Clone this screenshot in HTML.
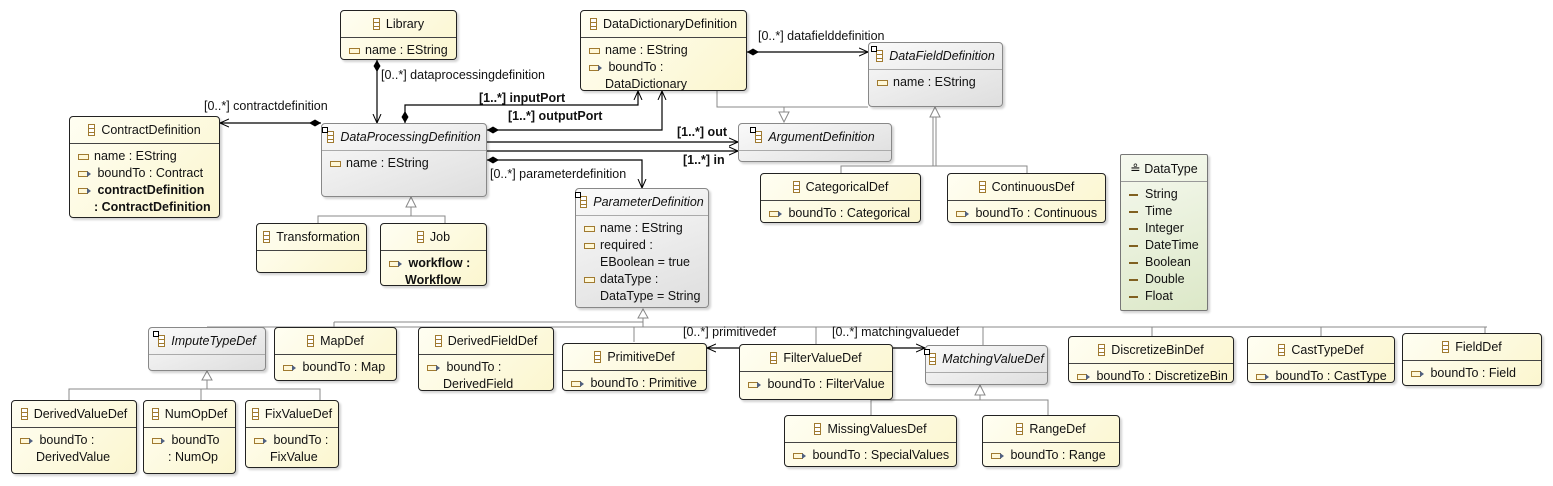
<!DOCTYPE html>
<html><head><meta charset="utf-8"><style>
body{margin:0;width:1553px;height:486px;background:#fff;position:relative;overflow:hidden;font-family:"Liberation Sans","DejaVu Sans",sans-serif;font-size:12.5px;color:#111}
.b{position:absolute;box-sizing:border-box;border:1px solid #222;border-radius:4px;background:linear-gradient(135deg,#fffef2,#fbf6cf);box-shadow:2px 2px 2px rgba(0,0,0,.18)}
.g{background:linear-gradient(160deg,#fafafa,#dedede);border-color:#888}
.gr{background:linear-gradient(160deg,#f6f9ef,#dce8c8);border-color:#777}
.h{box-sizing:border-box;border-bottom:1px solid #444;display:flex;align-items:center;justify-content:center;white-space:nowrap;height:27px}
.g .h{border-bottom-color:#aaa}
.gr .h{border-bottom-color:#999}
.i{font-style:italic}
.ci{display:inline-block;width:7px;height:12px;border:1px solid #a07a30;margin-right:6px;background:linear-gradient(#fff 0 3px,#a07a30 3px 4px,#fff 4px 7px,#a07a30 7px 8px,#fff 8px);box-sizing:border-box;position:relative;vertical-align:-2px}
.ab::before{content:"";position:absolute;left:-6px;top:-5px;width:4px;height:4px;border:1px solid #000;background:#fff}
.a{position:relative;padding-left:24px;line-height:17px;white-space:nowrap}
.a::before{content:"";position:absolute;left:8px;top:6px;width:9px;height:4px;border:1px solid #a07a30;background:#fff8d8}
.r::before{width:8px;height:4px}
.r::after{content:"";position:absolute;left:17px;top:6px;border-left:4px solid #506080;border-top:3px solid transparent;border-bottom:3px solid transparent}
.e::before{height:0;border-width:1px 0 1px 0;border-color:#806020;width:9px;top:8px;background:none}
.bo{font-weight:bold}
.at{padding-top:4px}
svg{position:absolute;left:0;top:0}
.l{position:absolute;white-space:nowrap;font-size:12.5px}
</style></head><body>
<svg width="1553" height="486">
<defs>
<marker id="ar" markerWidth="10" markerHeight="10" refX="9" refY="5" orient="auto" markerUnits="userSpaceOnUse"><path d="M0,1 L9,5 L0,9" fill="none" stroke="#000"/></marker>
<marker id="dm" markerWidth="16" markerHeight="10" refX="1" refY="5" orient="auto" markerUnits="userSpaceOnUse"><path d="M1,5 L7,1.5 L13,5 L7,8.5 Z" fill="#000"/></marker>
</defs>
<g fill="none" stroke="#000" stroke-width="1.2">
<path d="M377,60 V123" marker-start="url(#dm)" marker-end="url(#ar)"/>
<path d="M321,123 H220" marker-start="url(#dm)" marker-end="url(#ar)"/>
<path d="M405,123 V105 H638 V91" marker-start="url(#dm)" marker-end="url(#ar)"/>
<path d="M487,130 H662 V91" marker-start="url(#dm)" marker-end="url(#ar)"/>
<path d="M487,142 H738" marker-end="url(#ar)"/>
<path d="M487,151 H738" marker-end="url(#ar)"/>
<path d="M487,160 H642 V188" marker-start="url(#dm)" marker-end="url(#ar)"/>
<path d="M747,52 H868" marker-start="url(#dm)" marker-end="url(#ar)"/>
<path d="M739,348 H707" marker-end="url(#ar)"/>
<path d="M893,348 H925" marker-end="url(#ar)"/>
</g>
<g fill="none" stroke="#888" stroke-width="1">
<path d="M717,91 V107 H868"/><path d="M784,107 V112"/><path d="M779,112 L784,122 L789,112 Z" fill="#fff"/>
<path d="M936,117 V166 M933,117 V166 M841,173 V166 H1027 V173"/><path d="M930,117 L935,107 L940,117 Z" fill="#fff"/>
<path d="M411,207 V216 M318,223 V216 H445 V223"/><path d="M406,207 L411,197 L416,207 Z" fill="#fff"/>
<path d="M643,318 V327 M334,322 H643 M207,327 H1487 M334,322 V327 M634,327 V342 M816,327 V344 M983,327 V345 M1152,327 V336 M1321,327 V336 M1485,327 V333"/><path d="M638,318 L643,309 L648,318 Z" fill="#fff"/>
<path d="M207,380 V389 M69,400 V389 H320 V400 M201,389 V400"/><path d="M202,380 L207,371 L212,380 Z" fill="#fff"/>
<path d="M980,395 V400 M871,400 V415 M871,400 H1048 V415"/><path d="M975,395 L980,385 L985,395 Z" fill="#fff"/>
</g>
</svg>

<div class="l" style="left:381px;top:68px">[0..*] dataprocessingdefinition</div>
<div class="l" style="left:204px;top:99px">[0..*] contractdefinition</div>
<div class="l bo" style="left:479px;top:91px">[1..*] inputPort</div>
<div class="l bo" style="left:508px;top:109px">[1..*] outputPort</div>
<div class="l bo" style="left:677px;top:125px">[1..*] out</div>
<div class="l bo" style="left:683px;top:153px">[1..*] in</div>
<div class="l" style="left:490px;top:167px">[0..*] parameterdefinition</div>
<div class="l" style="left:758px;top:29px">[0..*] datafielddefinition</div>
<div class="l" style="left:683px;top:325px">[0..*] primitivedef</div>
<div class="l" style="left:832px;top:325px">[0..*] matchingvaluedef</div>

<div class="b" style="left:340px;top:10px;width:117px;height:50px"><div class="h"><span class="ci"></span>Library</div><div class="at"><div class="a">name : EString</div></div></div>
<div class="b" style="left:580px;top:10px;width:167px;height:81px"><div class="h"><span class="ci"></span>DataDictionaryDefinition</div><div class="at"><div class="a">name : EString</div><div class="a r" style="line-height:17px">&nbsp;boundTo :<br>DataDictionary</div></div></div>
<div class="b g" style="left:868px;top:42px;width:135px;height:65px"><div class="h i"><span class="ci ab"></span>DataFieldDefinition</div><div class="at"><div class="a">name : EString</div></div></div>
<div class="b" style="left:69px;top:116px;width:151px;height:102px"><div class="h"><span class="ci"></span>ContractDefinition</div><div class="at"><div class="a">name : EString</div><div class="a r">&nbsp;boundTo : Contract</div><div class="a r bo">&nbsp;contractDefinition<br>: ContractDefinition</div></div></div>
<div class="b g" style="left:321px;top:123px;width:166px;height:74px"><div class="h i"><span class="ci ab"></span>DataProcessingDefinition</div><div class="at"><div class="a">name : EString</div></div></div>
<div class="b g" style="left:738px;top:123px;width:154px;height:39px"><div class="h i"><span class="ci ab"></span>ArgumentDefinition</div></div>
<div class="b" style="left:760px;top:173px;width:161px;height:50px"><div class="h"><span class="ci"></span>CategoricalDef</div><div class="at"><div class="a r">&nbsp;boundTo : Categorical</div></div></div>
<div class="b" style="left:947px;top:173px;width:159px;height:50px"><div class="h"><span class="ci"></span>ContinuousDef</div><div class="at"><div class="a r">&nbsp;boundTo : Continuous</div></div></div>
<div class="b gr" style="left:1120px;top:154px;width:88px;height:157px;border-radius:2px"><div class="h" style="height:27px">≗&nbsp;DataType</div><div class="at"><div class="a e">String</div><div class="a e">Time</div><div class="a e">Integer</div><div class="a e">DateTime</div><div class="a e">Boolean</div><div class="a e">Double</div><div class="a e">Float</div></div></div>
<div class="b g" style="left:575px;top:188px;width:134px;height:120px"><div class="h i"><span class="ci ab"></span>ParameterDefinition</div><div class="at"><div class="a">name : EString</div><div class="a">required :<br>EBoolean = true</div><div class="a">dataType :<br>DataType = String</div></div></div>
<div class="b" style="left:256px;top:223px;width:111px;height:50px"><div class="h"><span class="ci"></span>Transformation</div></div>
<div class="b" style="left:380px;top:223px;width:107px;height:63px"><div class="h"><span class="ci"></span>Job</div><div class="at"><div class="a r bo">&nbsp;workflow :<br>Workflow</div></div></div>

<div class="b g" style="left:148px;top:327px;width:118px;height:44px"><div class="h i"><span class="ci ab"></span>ImputeTypeDef</div></div>
<div class="b" style="left:274px;top:327px;width:123px;height:54px"><div class="h"><span class="ci"></span>MapDef</div><div class="at"><div class="a r">&nbsp;boundTo : Map</div></div></div>
<div class="b" style="left:418px;top:327px;width:136px;height:64px"><div class="h"><span class="ci"></span>DerivedFieldDef</div><div class="at"><div class="a r">&nbsp;boundTo :<br>DerivedField</div></div></div>
<div class="b" style="left:562px;top:343px;width:145px;height:48px"><div class="h"><span class="ci"></span>PrimitiveDef</div><div class="at"><div class="a r">&nbsp;boundTo : Primitive</div></div></div>
<div class="b" style="left:739px;top:344px;width:154px;height:56px"><div class="h"><span class="ci"></span>FilterValueDef</div><div class="at"><div class="a r">&nbsp;boundTo : FilterValue</div></div></div>
<div class="b g" style="left:925px;top:345px;width:123px;height:40px"><div class="h i"><span class="ci ab"></span>MatchingValueDef</div></div>
<div class="b" style="left:1068px;top:336px;width:166px;height:47px"><div class="h"><span class="ci"></span>DiscretizeBinDef</div><div class="at"><div class="a r">&nbsp;boundTo : DiscretizeBin</div></div></div>
<div class="b" style="left:1247px;top:336px;width:148px;height:47px"><div class="h"><span class="ci"></span>CastTypeDef</div><div class="at"><div class="a r">&nbsp;boundTo : CastType</div></div></div>
<div class="b" style="left:1402px;top:333px;width:140px;height:53px"><div class="h"><span class="ci"></span>FieldDef</div><div class="at"><div class="a r">&nbsp;boundTo : Field</div></div></div>
<div class="b" style="left:11px;top:400px;width:126px;height:74px"><div class="h"><span class="ci"></span>DerivedValueDef</div><div class="at"><div class="a r">&nbsp;boundTo :<br>DerivedValue</div></div></div>
<div class="b" style="left:143px;top:400px;width:93px;height:74px"><div class="h"><span class="ci"></span>NumOpDef</div><div class="at"><div class="a r">&nbsp;boundTo<br>: NumOp</div></div></div>
<div class="b" style="left:245px;top:400px;width:94px;height:68px"><div class="h"><span class="ci"></span>FixValueDef</div><div class="at"><div class="a r">&nbsp;boundTo :<br>FixValue</div></div></div>
<div class="b" style="left:784px;top:415px;width:173px;height:52px"><div class="h"><span class="ci"></span>MissingValuesDef</div><div class="at"><div class="a r">&nbsp;boundTo : SpecialValues</div></div></div>
<div class="b" style="left:982px;top:415px;width:138px;height:52px"><div class="h"><span class="ci"></span>RangeDef</div><div class="at"><div class="a r">&nbsp;boundTo : Range</div></div></div>
</body></html>
